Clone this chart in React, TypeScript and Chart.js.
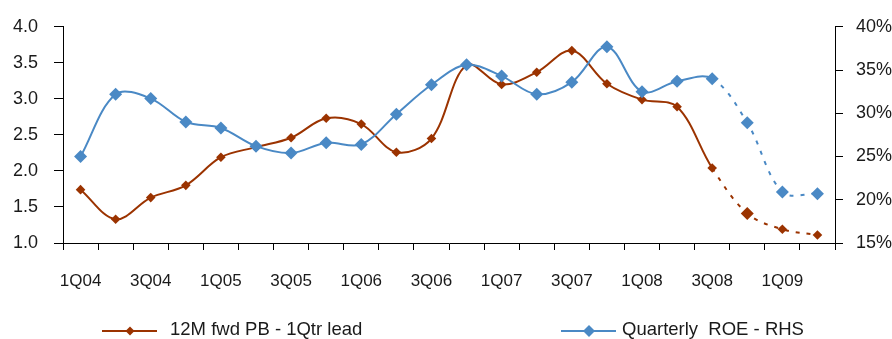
import React, { useEffect, useRef } from 'react';
import { Chart, registerables } from 'chart.js';

Chart.register(...registerables);

// ---- data ----
const quarters = [
  '1Q04', '2Q04', '3Q04', '4Q04', '1Q05', '2Q05', '3Q05', '4Q05',
  '1Q06', '2Q06', '3Q06', '4Q06', '1Q07', '2Q07', '3Q07', '4Q07',
  '1Q08', '2Q08', '3Q08', '4Q08', '1Q09', '2Q09',
];
const pbValues = [
  1.74, 1.33, 1.63, 1.80, 2.19, 2.33, 2.46, 2.73, 2.65, 2.26, 2.45,
  3.47, 3.20, 3.37, 3.67, 3.21, 2.99, 2.89, 2.04, 1.41, 1.19, 1.11,
];
const roeValues = [
  25.0, 32.2, 31.7, 29.0, 28.3, 26.2, 25.4, 26.6, 26.4, 29.9, 33.3,
  35.6, 34.3, 32.2, 33.6, 37.7, 32.5, 33.7, 34.0, 28.9, 20.9, 20.7,
];
const seriesNames = ['12M fwd PB - 1Qtr lead', 'Quarterly  ROE - RHS'];
const forecastFromIndex = 18;
const pbAxis = { min: 1.0, max: 4.0, step: 0.5 };
const roeAxis = { min: 15, max: 40, step: 5 };

const PB_COLOR = '#9B3300';
const ROE_COLOR = '#4A89C5';
const FONT = '"Liberation Sans", Arial, sans-serif';
const TEXT = '#1a1a1a';

export default function App() {
  const canvasRef = useRef<HTMLCanvasElement | null>(null);

  useEffect(() => {
    document.body.style.margin = '0';
    const canvas = canvasRef.current;
    if (!canvas) return;
    const dashed = (ctx: any) => (ctx.p0DataIndex >= forecastFromIndex ? [4, 7] : undefined);
    const chart = new Chart(canvas, {
      type: 'line',
      data: {
        labels: quarters,
        datasets: [
          {
            label: seriesNames[1],
            data: roeValues,
            yAxisID: 'yR',
            borderColor: ROE_COLOR,
            backgroundColor: ROE_COLOR,
            borderWidth: 2,
            pointStyle: 'rectRot',
            pointRadius: 6.5,
            pointBorderWidth: 0,
            tension: 0.35,
            segment: { borderDash: dashed },
          },
          {
            label: seriesNames[0],
            data: pbValues,
            yAxisID: 'yL',
            borderColor: PB_COLOR,
            backgroundColor: PB_COLOR,
            borderWidth: 2,
            pointStyle: 'rectRot',
            pointRadius: (ctx: any) => (ctx.dataIndex === 19 ? 6.5 : 4.8),
            pointBorderWidth: 0,
            tension: 0.35,
            segment: { borderDash: dashed },
          },
        ],
      },
      options: {
        animation: false,
        responsive: false,
        maintainAspectRatio: false,
        layout: { padding: { top: 25, left: 0, right: 0, bottom: 0 } },
        plugins: { legend: { display: false }, tooltip: { enabled: false } },
        scales: {
          x: {
            type: 'category',
            offset: true,
            grid: { display: true, offset: true, drawOnChartArea: false, drawTicks: true, tickLength: 7, color: '#000' },
            border: { display: true, color: '#000', width: 1 },
            ticks: {
              autoSkip: false,
              maxRotation: 0,
              minRotation: 0,
              padding: 21,
              color: TEXT,
              font: { family: FONT, size: 17 },
              callback: (_v: any, i: number) => (i % 2 === 0 ? quarters[i] : ''),
            },
            afterFit: (s: any) => { s.height = 96; },
          },
          yL: {
            position: 'left',
            min: pbAxis.min,
            max: pbAxis.max,
            grid: { display: true, drawOnChartArea: false, drawTicks: true, tickLength: 9, color: '#000' },
            border: { display: true, color: '#000', width: 1 },
            ticks: {
              stepSize: pbAxis.step,
              padding: 16,
              color: TEXT,
              font: { family: FONT, size: 18 },
              callback: (v: any) => Number(v).toFixed(1),
            },
            afterFit: (s: any) => { s.width = 63; },
          },
          yR: {
            position: 'right',
            min: roeAxis.min,
            max: roeAxis.max,
            grid: { display: true, drawOnChartArea: false, drawTicks: true, tickLength: 8, color: '#000' },
            border: { display: true, color: '#000', width: 1 },
            ticks: {
              stepSize: roeAxis.step,
              padding: 13,
              color: TEXT,
              font: { family: FONT, size: 18 },
              callback: (v: any) => `${v}%`,
            },
            afterFit: (s: any) => { s.width = 57; },
          },
        },
      },
    });
    return () => chart.destroy();
  }, []);

  const legendItems = [
    { label: seriesNames[0], color: PB_COLOR, x: 102, textX: 170, r: 4.5 },
    { label: seriesNames[1], color: ROE_COLOR, x: 561, textX: 622, r: 6 },
  ];

  return (
    <div style={{ position: 'absolute', left: 0, top: 0, width: 892, height: 339, background: '#fff', overflow: 'hidden' }}>
      <canvas ref={canvasRef} width={892} height={339} style={{ display: 'block', width: 892, height: 339 }} />
      {legendItems.map((it) => (
        <React.Fragment key={it.label}>
          <svg style={{ position: 'absolute', left: it.x, top: 323 }} width={56} height={16}>
            <line x1={0} y1={8} x2={55} y2={8} stroke={it.color} strokeWidth={2} />
            <polygon
              points={`${28 - it.r},8 28,${8 - it.r} ${28 + it.r},8 28,${8 + it.r}`}
              fill={it.color}
            />
          </svg>
          <span
            style={{
              position: 'absolute',
              left: it.textX,
              top: 320,
              font: `18.5px ${FONT}`,
              lineHeight: '18px',
              whiteSpace: 'pre',
              color: TEXT,
            }}
          >
            {it.label}
          </span>
        </React.Fragment>
      ))}
    </div>
  );
}
